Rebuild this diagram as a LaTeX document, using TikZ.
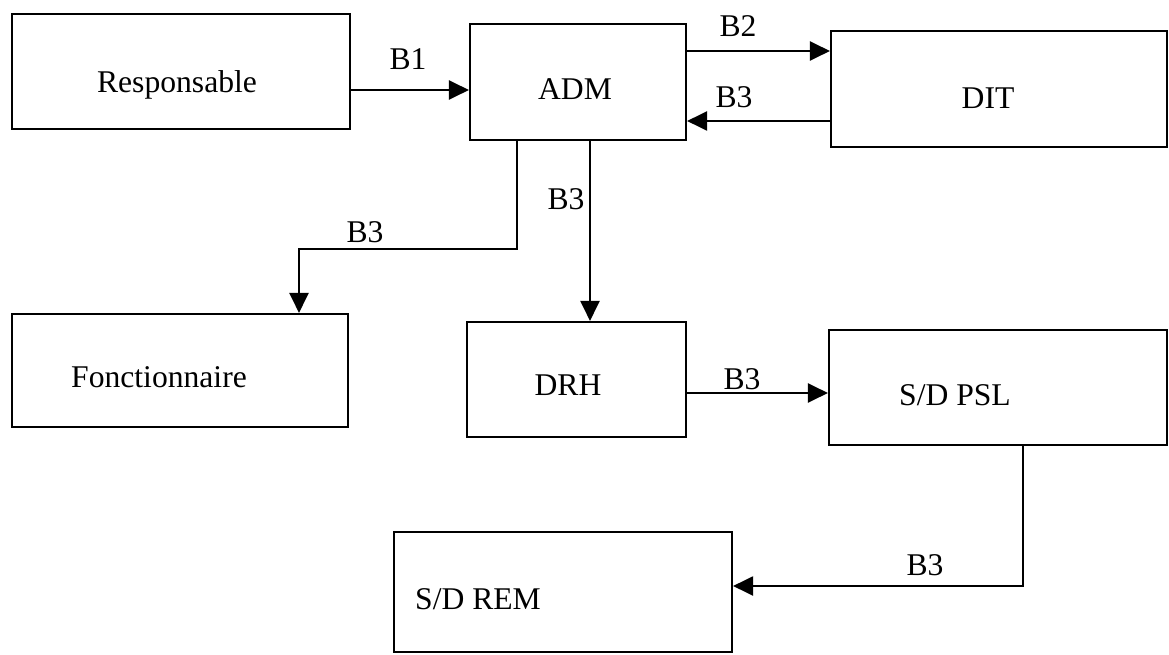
\documentclass[tikz,border=0pt]{standalone}
\usepackage{fontspec}
\setmainfont{Liberation Serif}
\usetikzlibrary{arrows.meta,calc}
\begin{document}
\begin{tikzpicture}[x=0.02cm,y=-0.02cm,
  box/.style={draw=black,line width=1.2pt,rectangle,inner sep=0pt,fill=none},
  txt/.style={font=\fontsize{18}{21}\selectfont,inner sep=0pt,anchor=base},
  lab/.style={font=\fontsize{18}{21}\selectfont,inner sep=0pt,anchor=base},
  arr/.style={draw=black,line width=1.2pt,-{Triangle[length=0.4cm,width=0.38cm]}}]
\useasboundingbox (0,0) rectangle (1169,655);
% boxes
\node[box,minimum width=338*0.02cm,minimum height=115*0.02cm] (resp) at (181,71.5) {};
\node[box,minimum width=216*0.02cm,minimum height=116*0.02cm] (adm) at (578,82) {};
\node[box,minimum width=336*0.02cm,minimum height=116*0.02cm] (dit) at (999,89) {};
\node[box,minimum width=336*0.02cm,minimum height=113*0.02cm] (fonct) at (180,370.5) {};
\node[box,minimum width=219*0.02cm,minimum height=115*0.02cm] (drh) at (576.5,379.5) {};
\node[box,minimum width=338*0.02cm,minimum height=115*0.02cm] (psl) at (998,387.5) {};
\node[box,minimum width=338*0.02cm,minimum height=120*0.02cm] (rem) at (563,592) {};
% texts
\node[txt] (respT) at (177,93) {Responsable};
\node[txt] (admT) at (575,100) {ADM};
\node[txt] (ditT) at (988,109) {DIT};
\node[txt] (fonctT) at (159,387) {Fonctionnaire};
\node[txt] (drhT) at (568,395) {DRH};
\node[txt] (pslT) at (955,405) {S/D PSL};
\node[txt] (remT) at (478,609) {S/D REM};
% connectors
\coordinate (b1s) at ($(resp.east)+(0,18.5)$);
\draw[arr] (b1s) -- (b1s -| adm.west);
\coordinate (b2s) at ($(adm.east)+(0,-31)$);
\draw[arr] (b2s) -- (b2s -| dit.west);
\coordinate (b3s) at ($(dit.west)+(0,32)$);
\draw[arr] (b3s) -- (b3s -| adm.east);
\coordinate (f1) at ($(adm.south)+(-61,0)$);
\coordinate (f2) at ($(fonct.north)+(119,0)$);
\draw[arr] (f1) |- ($(f2)+(0,-64)$) -- (f2);
\coordinate (d1) at ($(adm.south)+(12,0)$);
\draw[arr] (d1) -- (d1 |- drh.north);
\coordinate (p1) at ($(drh.east)+(0,13.5)$);
\draw[arr] (p1) -- (p1 -| psl.west);
\coordinate (r1) at ($(psl.south)+(25,0)$);
\coordinate (r2) at ($(rem.east)+(0,-6)$);
\draw[arr] (r1) |- (r2);
% labels
\node[lab] (lB1) at (408,70) {B1};
\node[lab] (lB2) at (738,37) {B2};
\node[lab] (lB3a) at (734,108) {B3};
\node[lab] (lB3b) at (365,242) {B3};
\node[lab] (lB3c) at (566,210) {B3};
\node[lab] (lB3d) at (742,389) {B3};
\node[lab] (lB3e) at (925,575) {B3};
\end{tikzpicture}
\end{document}
